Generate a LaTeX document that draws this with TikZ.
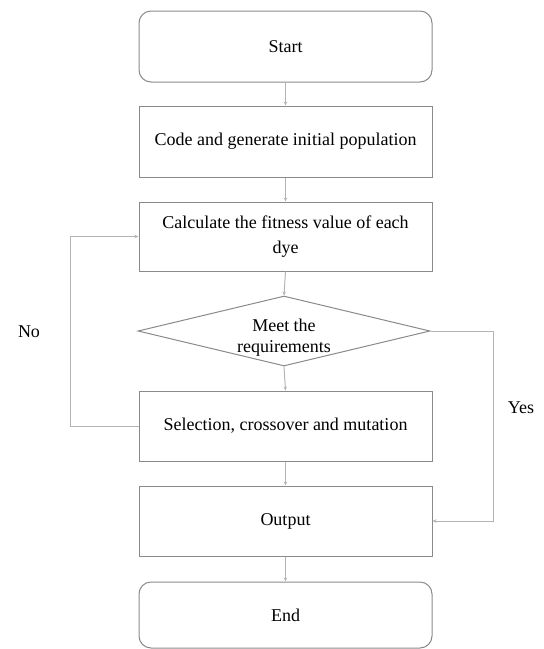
\documentclass[tikz,border=0pt]{standalone}
\usepackage{fontspec}
\setmainfont{Liberation Serif}
\usetikzlibrary{shapes.geometric,arrows.meta}
\definecolor{boxgray}{HTML}{8A8A8A}
\definecolor{linegray}{HTML}{B4B4B4}
\tikzset{
  box/.style={draw=boxgray, line width=1pt, minimum width=293pt, inner sep=0pt, align=center, font=\fontsize{18}{25}\selectfont},
  term/.style={box, rounded corners=12pt},
  dia/.style={draw=boxgray, line width=1pt, diamond, aspect=4.17, minimum width=292pt, minimum height=70pt, inner sep=0pt},
  txt/.style={align=center, font=\fontsize{18}{21}\selectfont, inner sep=0pt},
  conn/.style={draw=linegray, line width=1pt, -{Stealth[length=4pt,width=3.5pt]}}
}
\begin{document}
\begin{tikzpicture}[x=1pt,y=-1pt]
\useasboundingbox (0,0) rectangle (544,649);
\node[term, minimum height=71pt] (start) at (285.5,46.5) {Start};
\node[box, minimum height=71pt] (code) at (285.5,141.5) {Code and generate initial population};
\node[box, minimum height=69pt] (calc) at (285.5,236.5) {Calculate the fitness value of each\\dye};
\node[dia] (d) at (284,331) {};
\node[txt] (dtext) at (284,338) {Meet the\\requirements};
\node[box, minimum height=70pt] (sel) at (285.5,426) {Selection, crossover and mutation};
\node[box, minimum height=70pt] (out) at (285.5,521) {Output};
\node[term, minimum height=66pt] (end) at (285.5,615) {End};
\node[txt] (no) at (29,332) {No};
\node[txt] (yes) at (521,408) {Yes};
\draw[conn] (start.south) -- (code.north);
\draw[conn] (code.south) -- (calc.north);
\draw[conn] (calc.south) -- (d.north);
\draw[conn] (d.south) -- (sel.north);
\draw[conn] (sel.south) -- (out.north);
\draw[conn] (out.south) -- (end.north);
\draw[conn] (sel.west) -- ++(-68,0) |- (calc.west);
\draw[conn] (d.east) -- ++(63,0) |- (out.east);
\end{tikzpicture}
\end{document}
